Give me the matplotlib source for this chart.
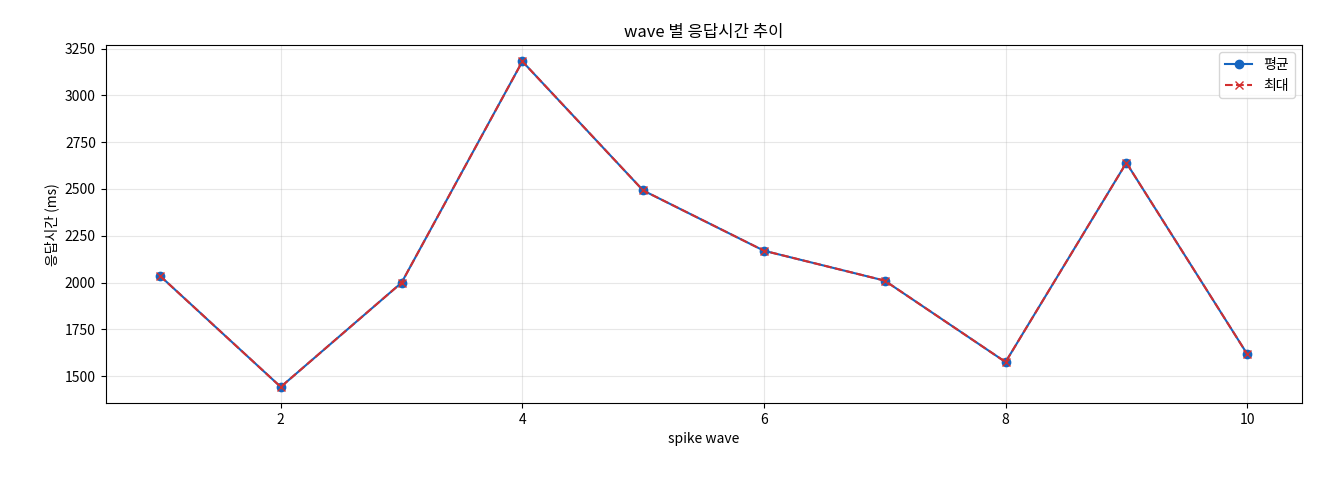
import matplotlib
matplotlib.use('Agg')
import matplotlib.pyplot as plt

plt.rcParams['font.family'] = ['Noto Sans CJK KR', 'DejaVu Sans']

waves = [1, 2, 3, 4, 5, 6, 7, 8, 9, 10]
avg_ms = [2036, 1442, 1999, 3182, 2492, 2170, 2010, 1575, 2640, 1618]
max_ms = [2036, 1442, 1999, 3182, 2492, 2170, 2010, 1575, 2640, 1618]

fig, ax = plt.subplots(figsize=(13.2, 4.8), dpi=100)
ax.plot(waves, avg_ms, marker='o', color='#1565c0', label='평균')
ax.plot(waves, max_ms, marker='x', linestyle='--', color='#d32f2f', label='최대')
ax.set_title('wave 별 응답시간 추이')
ax.set_xlabel('spike wave')
ax.set_ylabel('응답시간 (ms)')
ax.grid(True, alpha=0.3)
ax.legend(loc='upper right')
fig.subplots_adjust(left=0.08, right=0.986, top=0.906, bottom=0.16)
fig.savefig('out.png')
